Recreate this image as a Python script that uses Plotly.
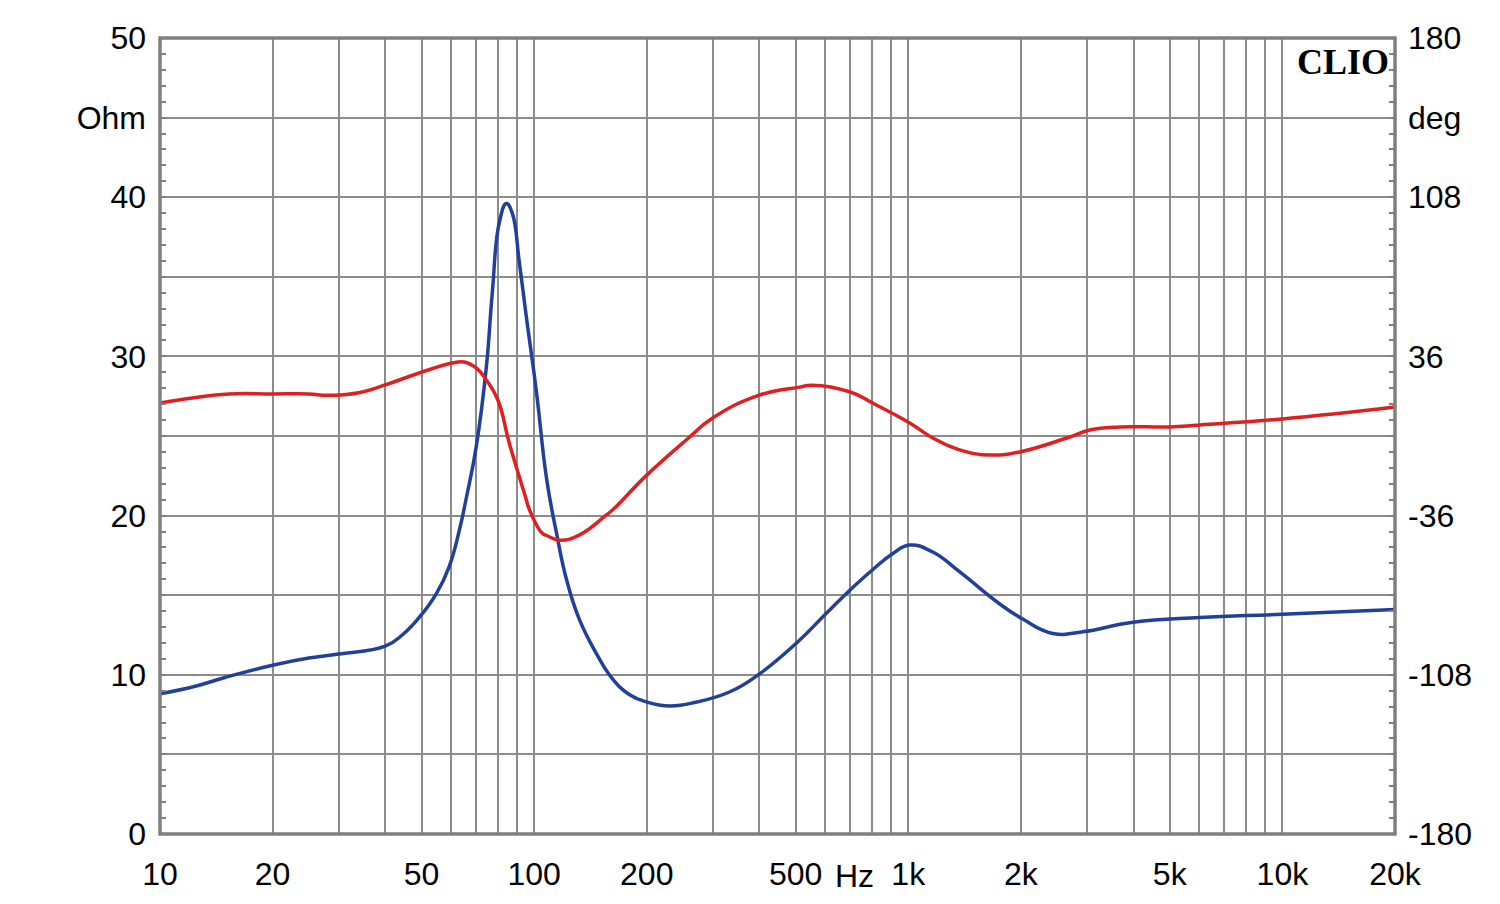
import plotly.graph_objects as go
import math

# Impedance magnitude (Ohm) vs frequency (Hz)
imp_freq = [10, 12.5, 15, 20, 25, 30, 40, 44.4, 49.3, 54.8, 59.3, 63, 66, 70, 74.5, 77.3, 80.7,
            84.3, 87.4, 91.3, 95.3, 101.4, 108, 115, 122, 132, 147, 162, 180, 200, 230, 272, 335,
            400, 503, 605, 697, 803, 908, 1009, 1163, 1373, 1756, 2023, 2434, 2928, 3985, 6020,
            10000, 20000]
imp_ohm = [8.8, 9.3, 9.85, 10.6, 11.05, 11.3, 11.8, 12.5, 13.6, 15.1, 16.8, 19.0, 21.2, 24.3,
           29.3, 34.0, 38.4, 39.6, 39.0, 35.9, 32.5, 27.8, 22.3, 18.8, 16.0, 13.5, 11.3, 9.75, 8.75,
           8.29, 8.04, 8.29, 8.95, 10.05, 12.0, 13.88, 15.3, 16.6, 17.6, 18.15, 17.71, 16.46,
           14.45, 13.5, 12.6, 12.7, 13.3, 13.6, 13.8, 14.1]

# Phase (deg) vs frequency (Hz)
ph_freq = [10, 12.2, 15.3, 20, 25, 28, 34, 40, 49.3, 60.4, 65, 70, 74.5, 80, 85.8, 95, 97,
           105, 108, 116.8, 132, 156, 162, 200, 255, 300, 400, 512, 553, 700, 803, 1009, 1163,
           1433, 1682, 1986, 2654, 3057, 3678, 5000, 6020, 10000, 20000]
ph_deg = [14.9, 17.2, 19.0, 19.0, 19.0, 18.4, 19.6, 23.1, 28.5, 33.0, 33.5, 30.8, 25.3, 16.3,
          -3.2, -28.0, -33.0, -43.9, -45.0, -47.1, -44.8, -35.7, -33.5, -17.7, -1.8, 8.1, 18.5,
          22.1, 23.0, 19.9, 14.9, 5.9, -0.9, -7.2, -8.6, -7.2, -0.9, 2.7, 4.1, 4.1, 5.0, 7.7, 13.1]

# Axis ticks
x_grid = [10, 20, 30, 40, 50, 60, 70, 80, 90, 100, 200, 300, 400, 500, 600, 700, 800, 900,
          1000, 2000, 3000, 4000, 5000, 6000, 7000, 8000, 9000, 10000, 20000]
x_labels = {10: '10', 20: '20', 50: '50', 100: '100', 200: '200', 500: '500', 1000: '1k',
            2000: '2k', 5000: '5k', 10000: '10k', 20000: '20k'}
y_left_vals = [0, 5, 10, 15, 20, 25, 30, 35, 40, 45, 50]
y_left_text = ['0', '', '10', '', '20', '', '30', '', '40', 'Ohm', '50']
y_right_vals = [-180, -144, -108, -72, -36, 0, 36, 72, 108, 144, 180]
y_right_text = ['-180', '', '-108', '', '-36', '', '36', '', '108', 'deg', '180']

BLUE = 'rgb(33,64,154)'
RED = 'rgb(222,32,32)'
GRID = 'rgb(140,140,140)'
FRAME = 'rgb(128,128,128)'
FONT = dict(family='Liberation Sans, Arial, sans-serif', size=32, color='black')

fig = go.Figure()
fig.add_trace(go.Scatter(x=ph_freq, y=ph_deg, yaxis='y2', mode='lines',
                         line=dict(color=RED, width=3.5, shape='spline', smoothing=1.3),
                         showlegend=False, hoverinfo='skip'))
fig.add_trace(go.Scatter(x=imp_freq, y=imp_ohm, mode='lines',
                         line=dict(color=BLUE, width=3.5, shape='spline', smoothing=1.3),
                         showlegend=False, hoverinfo='skip'))

fig.update_layout(
    width=1500, height=904,
    margin=dict(l=160, r=105, t=38, b=70),
    paper_bgcolor='white', plot_bgcolor='white',
    font=FONT,
    xaxis=dict(type='log', range=[1, math.log10(20000)],
               tickvals=x_grid, ticktext=[x_labels.get(v, '') for v in x_grid],
               showgrid=True, gridcolor=GRID, gridwidth=1.5,
               ticks='', showline=False, zeroline=False,
               ticklabelstandoff=18, tickfont=FONT),
    yaxis=dict(range=[0, 50], tickvals=y_left_vals, ticktext=y_left_text,
               showgrid=True, gridcolor=GRID, gridwidth=1.5,
               ticks='', showline=False, zeroline=False,
               minor=dict(dtick=1, ticks='inside', ticklen=6, tickcolor=FRAME, tickwidth=1.5,
                          showgrid=False),
               ticklabelstandoff=13, tickfont=FONT),
    yaxis2=dict(range=[-180, 180], overlaying='y', side='right',
                tickvals=y_right_vals, ticktext=y_right_text,
                showgrid=False, ticks='', showline=False, zeroline=False,
                minor=dict(dtick=7.2, tick0=-180, ticks='inside', ticklen=6, tickcolor=FRAME,
                           tickwidth=1.5, showgrid=False),
                ticklabelstandoff=12, tickfont=FONT),
    shapes=[dict(type='rect', xref='paper', yref='paper', x0=0, x1=1, y0=0, y1=1,
                 line=dict(color=FRAME, width=3.5), layer='above')],
    annotations=[
        dict(text='Hz', xref='x', yref='paper', x=math.log10(719), y=0,
             yanchor='middle', xanchor='center', yshift=-42, showarrow=False, font=FONT),
        dict(text='<b>CLIO</b>', xref='paper', yref='paper', x=1, y=1,
             xanchor='right', yanchor='top', xshift=-4, yshift=-2, showarrow=False,
             font=dict(family='Liberation Serif, Times New Roman, serif', size=36, color='black')),
    ],
)

fig.write_html('out.html')
